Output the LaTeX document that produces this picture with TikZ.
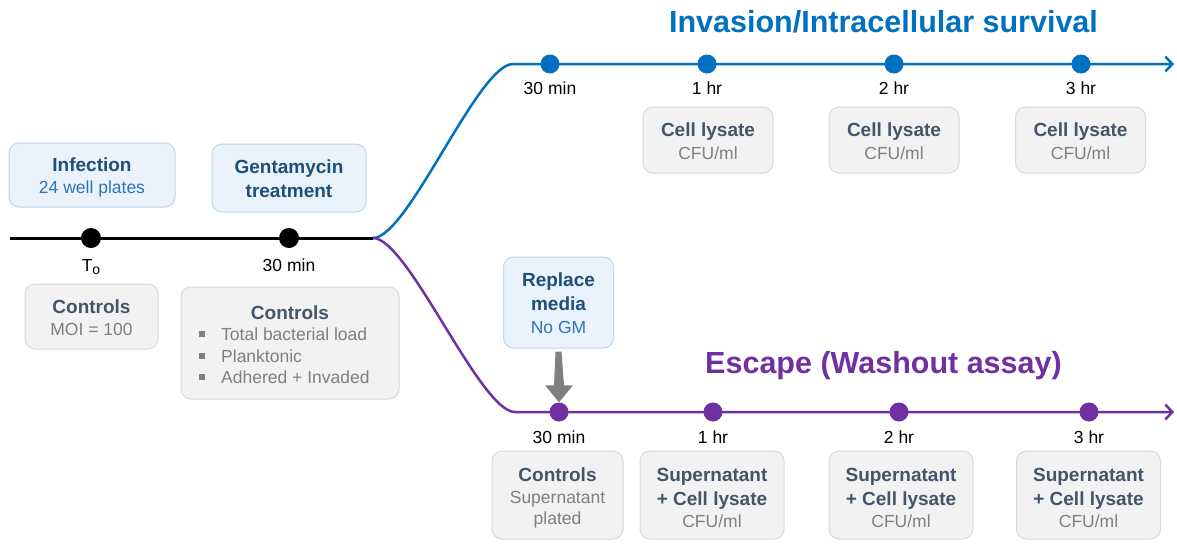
\documentclass[tikz,border=0pt]{standalone}
\usepackage{fontspec}
\setmainfont{Liberation Sans}
\usetikzlibrary{arrows.meta,calc}
\definecolor{cblue}{HTML}{0070C0}
\definecolor{cpurple}{HTML}{7030A0}
\definecolor{bfill}{HTML}{EAF3FB}
\definecolor{bdraw}{HTML}{BDD7EE}
\definecolor{gfill}{HTML}{F2F2F2}
\definecolor{gdraw}{HTML}{D9D9D9}
\definecolor{hblue}{HTML}{1F4E79}
\definecolor{sblue}{HTML}{2E75B6}
\definecolor{hgray}{HTML}{44546A}
\definecolor{sgray}{HTML}{7F7F7F}
\definecolor{agray}{HTML}{808080}
\tikzset{
  bbox/.style={rounded corners=10pt, fill=bfill, draw=bdraw, line width=1pt, inner sep=0pt},
  gbox/.style={rounded corners=10pt, fill=gfill, draw=gdraw, line width=1pt, inner sep=0pt},
  hdb/.style={font=\fontsize{19}{22}\selectfont\bfseries, text=hblue, anchor=base, inner sep=0pt},
  sbb/.style={font=\fontsize{17.5}{21}\selectfont, text=sblue, anchor=base, inner sep=0pt},
  hdg/.style={font=\fontsize{19}{22}\selectfont\bfseries, text=hgray, anchor=base, inner sep=0pt},
  sbg/.style={font=\fontsize{17.5}{21}\selectfont, text=sgray, anchor=base, inner sep=0pt},
  lbl/.style={font=\fontsize{17.5}{21}\selectfont, text=black, anchor=base, inner sep=0pt},
  ttl/.style={font=\fontsize{30.5}{34}\selectfont\bfseries, anchor=base, inner sep=0pt},
  dotk/.style={circle, fill=black, minimum size=20pt, inner sep=0pt},
  dotb/.style={circle, fill=cblue, minimum size=19pt, inner sep=0pt},
  dotp/.style={circle, fill=cpurple, minimum size=19pt, inner sep=0pt},
  tline/.style={line width=2.5pt},
  tipb/.style={-{Straight Barb[length=7pt,width=15pt,line width=2.5pt]}},
  fatarrow/.style={fill=agray},
}
\newcommand{\sqbul}{\makebox[22pt][l]{\textcolor{sgray}{\rule[0.18em]{0.34em}{0.34em}}}}
\begin{document}
\begin{tikzpicture}[x=1pt,y=-1pt]
\useasboundingbox (0,0) rectangle (1177,544);
\fill[white] (0,0) rectangle (1177,544);

% coordinates
\coordinate (start) at (10,238);
\coordinate (split) at (373,238);
\coordinate (bh) at (513,64);
\coordinate (bend) at (1174,64);
\coordinate (ph) at (515,412);
\coordinate (pend) at (1174,412);

% lines
\draw[line width=3pt] (start) -- (split);
\draw[tline, cblue, tipb] (split) .. controls (408,238) and (478,64) .. (bh) -- (bend);
\draw[tline, cpurple, tipb] (split) .. controls (408,238) and (480,412) .. (ph) -- (pend);

% black dots
\node[dotk] (k0) at (91,238) {};
\node[dotk] (k1) at (289,238) {};
\node[lbl] (lk0) at (91,271) {T\raisebox{-3pt}{\fontsize{14}{14}\selectfont o}};
\node[lbl] (lk1) at (289,271) {30 min};

% top-left boxes
\node[bbox, minimum width=166pt, minimum height=64pt] (inf) at (92,175) {};
\node[hdb] (inf1) at (92,171) {Infection};
\node[sbb] (inf2) at (92,193) {24 well plates};

\node[bbox, minimum width=154pt, minimum height=68pt] (gen) at (289,178) {};
\node[hdb] (gen1) at (289,173) {Gentamycin};
\node[hdb] (gen2) at (289,197) {treatment};

\node[gbox, minimum width=133pt, minimum height=65pt] (c1) at (91.5,316.5) {};
\node[hdg] (c1a) at (91.5,313) {Controls};
\node[sbg] (c1b) at (91.5,335) {MOI = 100};

\node[gbox, minimum width=218pt, minimum height=112pt] (c2) at (290,343) {};
\node[hdg] (c2a) at (290,319) {Controls};
\node[sbg, anchor=base west] (c2b) at (199,340) {\sqbul Total bacterial load};
\node[sbg, anchor=base west] (c2c) at (199,362) {\sqbul Planktonic};
\node[sbg, anchor=base west] (c2d) at (199,383) {\sqbul Adhered + Invaded};

% invasion branch
\node[ttl, text=cblue] (tin) at (883.5,32.5) {Invasion/Intracellular survival};
\node[dotb] (b0) at (550,64) {};
\node[dotb] (b1) at (707,64) {};
\node[dotb] (b2) at (894,64) {};
\node[dotb] (b3) at (1081,64) {};
\node[lbl] (lb0) at (550,94) {30 min};
\node[lbl] (lb1) at (707,94) {1 hr};
\node[lbl] (lb2) at (894,94) {2 hr};
\node[lbl] (lb3) at (1081,94) {3 hr};
\foreach \n/\x in {1/708,2/894,3/1080.5}{
  \node[gbox, minimum width=130pt, minimum height=66pt] (cl\n) at (\x,140) {};
  \node[hdg] (cl\n a) at (\x,136) {Cell lysate};
  \node[sbg] (cl\n b) at (\x,159) {CFU/ml};
}

% escape branch
\node[ttl, text=cpurple] (tes) at (883.5,373) {Escape (Washout assay)};
\node[bbox, minimum width=110pt, minimum height=91pt] (rep) at (558.5,302.5) {};
\node[hdb] (rep1) at (558.5,286) {Replace};
\node[hdb] (rep2) at (558.5,310) {media};
\node[sbb] (rep3) at (558.5,333) {No GM};

\node[dotp] (p0) at (559,412) {};
\node[dotp] (p1) at (713,412) {};
\node[dotp] (p2) at (899,412) {};
\node[dotp] (p3) at (1089,412) {};
\node[lbl] (lp0) at (559,443) {30 min};
\node[lbl] (lp1) at (713,443) {1 hr};
\node[lbl] (lp2) at (899,443) {2 hr};
\node[lbl] (lp3) at (1089,443) {3 hr};

% tapered fat arrow from Replace media to the 30 min dot
\fill[fatarrow] ($(rep.south)+(-3,3)$) -- ($(rep.south)+(3,3)$)
  -- ($(p0.north)+(5,-17)$) -- ($(p0.north)+(14,-17)$) -- (p0.north)
  -- ($(p0.north)+(-14,-17)$) -- ($(p0.north)+(-5,-17)$) -- cycle;

\node[gbox, minimum width=131pt, minimum height=88pt] (ec) at (557.5,495) {};
\node[hdg] (ec1) at (557.5,481) {Controls};
\node[sbg] (ec2) at (557.5,503) {Supernatant};
\node[sbg] (ec3) at (557.5,524) {plated};
\foreach \n/\x in {1/712,2/901,3/1088.5}{
  \node[gbox, minimum width=144pt, minimum height=88pt] (sp\n) at (\x,495) {};
  \node[hdg] (sp\n a) at (\x,481) {Supernatant};
  \node[hdg] (sp\n b) at (\x,505) {+ Cell lysate};
  \node[sbg] (sp\n c) at (\x,527) {CFU/ml};
}
\end{tikzpicture}
\end{document}
